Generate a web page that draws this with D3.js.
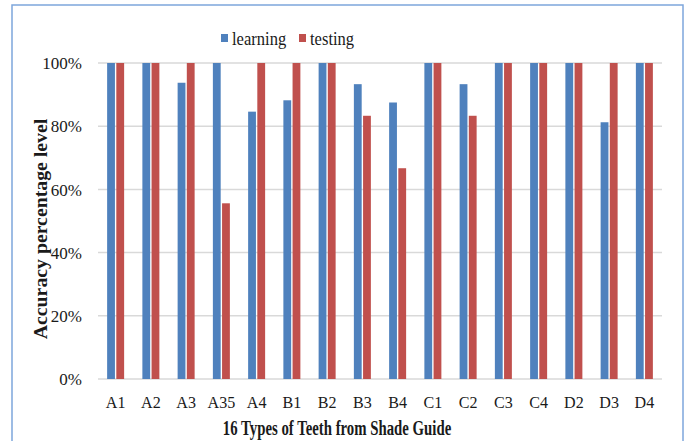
<!DOCTYPE html>
<html>
<head>
<meta charset="utf-8">
<script src="https://cdn.jsdelivr.net/npm/d3@7"></script>
<style>
  body { margin: 0; background: #fff; }
  svg text { font-family: "Liberation Serif", "Times New Roman", Times, serif; fill: #1a1a1a; }
</style>
</head>
<body>
<div id="chart"></div>
<script>
const categories = ['A1', 'A2', 'A3', 'A35', 'A4', 'B1', 'B2', 'B3', 'B4', 'C1', 'C2', 'C3', 'C4', 'D2', 'D3', 'D4'];
const learning = [100, 100, 93.75, 100, 84.6, 88.2, 100, 93.3, 87.5, 100, 93.3, 100, 100, 100, 81.25, 100];
const testing = [100, 100, 100, 55.6, 100, 100, 100, 83.3, 66.7, 100, 83.3, 100, 100, 100, 100, 100];
const seriesNames = ['learning', 'testing'];
const yTicks = [0, 20, 40, 60, 80, 100];

const width = 689;
const height = 441;
const margin = { top: 63, right: 27, bottom: 62, left: 98 };

const colors = d3.scaleOrdinal()
  .domain(seriesNames)
  .range(['#4f81bd', '#c0504d']);

const svg = d3.select('#chart')
  .append('svg')
  .attr('width', width)
  .attr('height', height);

// outer frame (bottom edge runs off the picture)
svg.append('rect')
  .attr('x', 12)
  .attr('y', 5)
  .attr('width', 671)
  .attr('height', 460)
  .attr('fill', 'none')
  .attr('stroke', '#7ea6dc')
  .attr('stroke-width', 1.5);

const x0 = d3.scaleBand()
  .domain(categories)
  .range([margin.left, width - margin.right]);

const bw = x0.bandwidth();
const x1 = d3.scaleBand()
  .domain(seriesNames)
  .range([bw / 2 - 8.5, bw / 2 + 8.5])
  .paddingInner(0.15);

const y = d3.scaleLinear()
  .domain([0, 100])
  .range([height - margin.bottom, margin.top]);

// gridlines
svg.append('g')
  .selectAll('line')
  .data(yTicks)
  .enter()
  .append('line')
  .attr('x1', margin.left)
  .attr('x2', width - margin.right)
  .attr('y1', d => y(d))
  .attr('y2', d => y(d))
  .attr('stroke', '#d9d9d9')
  .attr('stroke-width', 1.5);

// y axis labels
const yAxis = d3.axisLeft(y)
  .tickValues(yTicks)
  .tickFormat(d => `${d}%`)
  .tickSize(0)
  .tickPadding(16);

svg.append('g')
  .attr('transform', `translate(${margin.left}, 0)`)
  .call(yAxis)
  .attr('font-family', null)
  .call(g => g.select('.domain').remove())
  .selectAll('text')
  .attr('font-size', 17)
  .attr('dy', '0.34em');

// x axis labels, glyphs a little narrow like the original
const xAxis = d3.axisBottom(x0)
  .tickSize(0)
  .tickPadding(0);

svg.append('g')
  .attr('transform', `translate(0, ${height - margin.bottom})`)
  .call(xAxis)
  .attr('font-family', null)
  .call(g => g.select('.domain').remove())
  .selectAll('text')
  .attr('font-size', 17.5)
  .attr('y', 0)
  .attr('dy', 0)
  .attr('transform', 'translate(0, 29) scale(0.92, 1)');

// bars
const rows = categories.map((c, i) => ({ cat: c, values: [
  { key: 'learning', value: learning[i] },
  { key: 'testing', value: testing[i] },
] }));

const groups = svg.append('g')
  .selectAll('g')
  .data(rows)
  .enter()
  .append('g')
  .attr('transform', d => `translate(${x0(d.cat)}, 0)`);

groups.selectAll('rect')
  .data(d => d.values)
  .enter()
  .append('rect')
  .attr('x', d => x1(d.key))
  .attr('width', x1.bandwidth())
  .attr('y', d => y(d.value))
  .attr('height', d => y(0) - y(d.value))
  .attr('fill', d => colors(d.key));

// axis titles
svg.append('text')
  .attr('transform', 'translate(47, 229) rotate(-90) scale(1.1, 1)')
  .attr('text-anchor', 'middle')
  .attr('font-size', 18)
  .attr('font-weight', 'bold')
  .text('Accuracy percentage level');

svg.append('text')
  .attr('transform', 'translate(337, 435) scale(0.74, 1)')
  .attr('text-anchor', 'middle')
  .attr('font-size', 20)
  .attr('font-weight', 'bold')
  .text('16 Types of Teeth from Shade Guide');

// legend
const legendX = [221, 299];
const legend = svg.selectAll('.legend')
  .data(seriesNames)
  .enter()
  .append('g')
  .attr('class', 'legend')
  .attr('transform', (d, i) => `translate(${legendX[i]}, 0)`);

legend.append('rect')
  .attr('x', 0)
  .attr('y', 34)
  .attr('width', 7)
  .attr('height', 8)
  .attr('fill', d => colors(d));

legend.append('text')
  .attr('transform', 'translate(11, 45) scale(0.92, 1)')
  .attr('font-size', 18)
  .text(d => d);
</script>
</body>
</html>
